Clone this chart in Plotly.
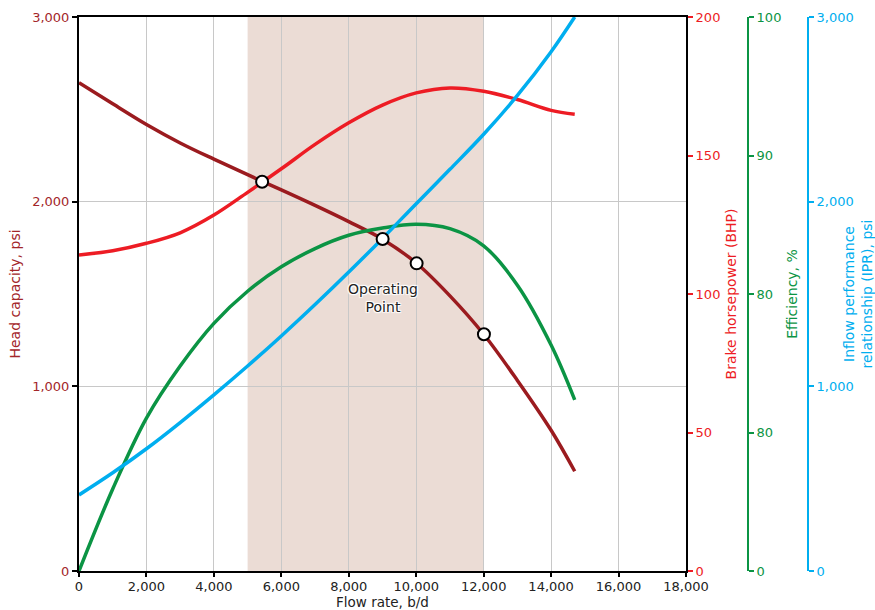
import plotly.graph_objects as go

# Flow rate (b/d) sample points shared by all curves
flow = [0, 1000, 2000, 3000, 4000, 5000, 6000, 7000, 8000, 9000, 10000, 11000, 12000, 13000, 14000, 14700]
head_psi = [2644, 2530, 2418, 2318, 2230, 2146, 2064, 1980, 1892, 1797, 1668, 1490, 1282, 1032, 762, 540]
bhp_hp = [114.1, 115.6, 118.3, 122.1, 128.5, 136.7, 145.2, 154.0, 161.8, 168.2, 172.6, 174.4, 173.2, 170.2, 166.3, 164.9]
eff_axis = [0, 14.8, 27.6, 37.0, 44.7, 50.5, 54.9, 58.2, 60.6, 61.9, 62.6, 61.8, 58.7, 51.6, 40.8, 30.9]
ipr_psi = [412, 532, 662, 804, 954, 1110, 1273, 1443, 1619, 1801, 1989, 2175, 2365, 2575, 2812, 3000]

op_flow = [5430, 9004, 10012, 12008]
op_psi = [2108, 1798, 1666, 1282]

shade_range = [5000, 12000]

x_ticks = [0, 2000, 4000, 6000, 8000, 10000, 12000, 14000, 16000, 18000]
x_ticklabels = ["0", "2,000", "4,000", "6,000", "8,000", "10,000", "12,000", "14,000", "16,000", "18,000"]
head_ticks = [0, 1000, 2000, 3000]
head_ticklabels = ["0", "1,000", "2,000", "3,000"]
bhp_ticks = [0, 50, 100, 150, 200]
eff_ticks = [0, 25, 50, 75, 100]
eff_ticklabels = ["0", "80", "80", "90", "100"]
ipr_ticks = [0, 1000, 2000, 3000]
ipr_ticklabels = ["0", "1,000", "2,000", "3,000"]

C_HEAD = "#9b1b1f"
C_HEAD_TXT = "#a3262a"
C_BHP = "#ed1c24"
C_EFF = "#0b9444"
C_IPR = "#00aeef"

FONT = "DejaVu Sans"
FS = 13
FT = 14
SM = 1.0

fig = go.Figure()
fig.add_trace(go.Scatter(x=flow, y=head_psi, mode="lines",
                         line=dict(color=C_HEAD, width=3.5, shape="spline", smoothing=SM),
                         yaxis="y", showlegend=False))
fig.add_trace(go.Scatter(x=flow, y=bhp_hp, mode="lines",
                         line=dict(color=C_BHP, width=3.5, shape="spline", smoothing=SM),
                         yaxis="y2", showlegend=False))
fig.add_trace(go.Scatter(x=flow, y=eff_axis, mode="lines",
                         line=dict(color=C_EFF, width=3.5, shape="spline", smoothing=SM),
                         yaxis="y3", showlegend=False))
fig.add_trace(go.Scatter(x=flow, y=ipr_psi, mode="lines",
                         line=dict(color=C_IPR, width=3.5, shape="spline", smoothing=SM),
                         yaxis="y4", showlegend=False))
# operating points (psi, same 0-3000 scale as the IPR axis so they sit on top)
fig.add_trace(go.Scatter(x=op_flow, y=op_psi, mode="markers",
                         marker=dict(size=12, color="white", line=dict(color="black", width=2)),
                         yaxis="y4", showlegend=False))

fig.add_shape(type="rect", xref="x", yref="paper", x0=shade_range[0], x1=shade_range[1], y0=0, y1=1,
              fillcolor="#ebdcd5", line=dict(width=0), layer="below")

fig.add_annotation(x=9000, y=1478, xref="x", yref="y", text="Operating<br>Point", showarrow=False,
                   font=dict(family=FONT, size=FT, color="#222222",
                             shadow="1px 1px 1px white, -1px -1px 1px white, 1px -1px 1px white, -1px 1px 1px white, 0 0 2px white"))

d_end = (686 - 79) / 796
fig.update_layout(
    width=875, height=610,
    margin=dict(l=79, r=0, t=17, b=39),
    plot_bgcolor="white", paper_bgcolor="white",
    font=dict(family=FONT, size=FS, color="black"),
    xaxis=dict(domain=[0, d_end], range=[0, 18000], tickvals=x_ticks, ticktext=x_ticklabels,
               showline=True, linecolor="black", linewidth=2, mirror=True,
               ticks="outside", ticklen=4, tickcolor="black", tickwidth=2, ticklabelstandoff=-2,
               showgrid=True, gridcolor="#c8c8c8", gridwidth=1, zeroline=False,
               title=dict(text="Flow rate, b/d", standoff=3, font=dict(size=13.5, color="#222222")),
               tickfont=dict(color="#222222"), automargin=False),
    yaxis=dict(range=[0, 3000], tickvals=head_ticks, ticktext=head_ticklabels,
               showline=True, linecolor="black", linewidth=2,
               ticks="outside", ticklen=5, tickcolor="black", tickwidth=2,
               showgrid=True, gridcolor="#c8c8c8", gridwidth=1, zeroline=False,
               tickfont=dict(color=C_HEAD_TXT),
               title=dict(text="Head capacity, psi", font=dict(color=C_HEAD_TXT, size=FT), standoff=8),
               automargin=False),
    yaxis2=dict(range=[0, 200], tickvals=bhp_ticks, overlaying="y", side="right", anchor="x",
                showline=True, linecolor="black", linewidth=2,
                ticks="outside", ticklen=5, tickcolor=C_BHP, tickwidth=2,
                showgrid=False, zeroline=False, tickfont=dict(color=C_BHP),
                title=dict(text="Brake horsepower (BHP)", font=dict(color=C_BHP, size=FT), standoff=7),
                automargin=False),
    yaxis3=dict(range=[0, 100], tickvals=eff_ticks, ticktext=eff_ticklabels, overlaying="y", side="right",
                anchor="free", position=(748 - 79) / 796,
                showline=True, linecolor=C_EFF, linewidth=2,
                ticks="outside", ticklen=5, tickcolor=C_EFF, tickwidth=2,
                showgrid=False, zeroline=False, tickfont=dict(color=C_EFF),
                title=dict(text="Efficiency, %", font=dict(color=C_EFF, size=FT), standoff=6),
                automargin=False),
    yaxis4=dict(range=[0, 3000], tickvals=ipr_ticks, ticktext=ipr_ticklabels, overlaying="y", side="right",
                anchor="free", position=(808 - 79) / 796,
                showline=True, linecolor=C_IPR, linewidth=2,
                ticks="outside", ticklen=5, tickcolor=C_IPR, tickwidth=2,
                showgrid=False, zeroline=False, tickfont=dict(color=C_IPR),
                title=dict(text="Inflow performance<br>relationship (IPR), psi", font=dict(color=C_IPR, size=FT), standoff=6),
                automargin=False),
)

fig.write_html("out.html", config={"displayModeBar": False},
               post_script="document.body.style.margin='0';document.body.style.overflow='hidden';")
